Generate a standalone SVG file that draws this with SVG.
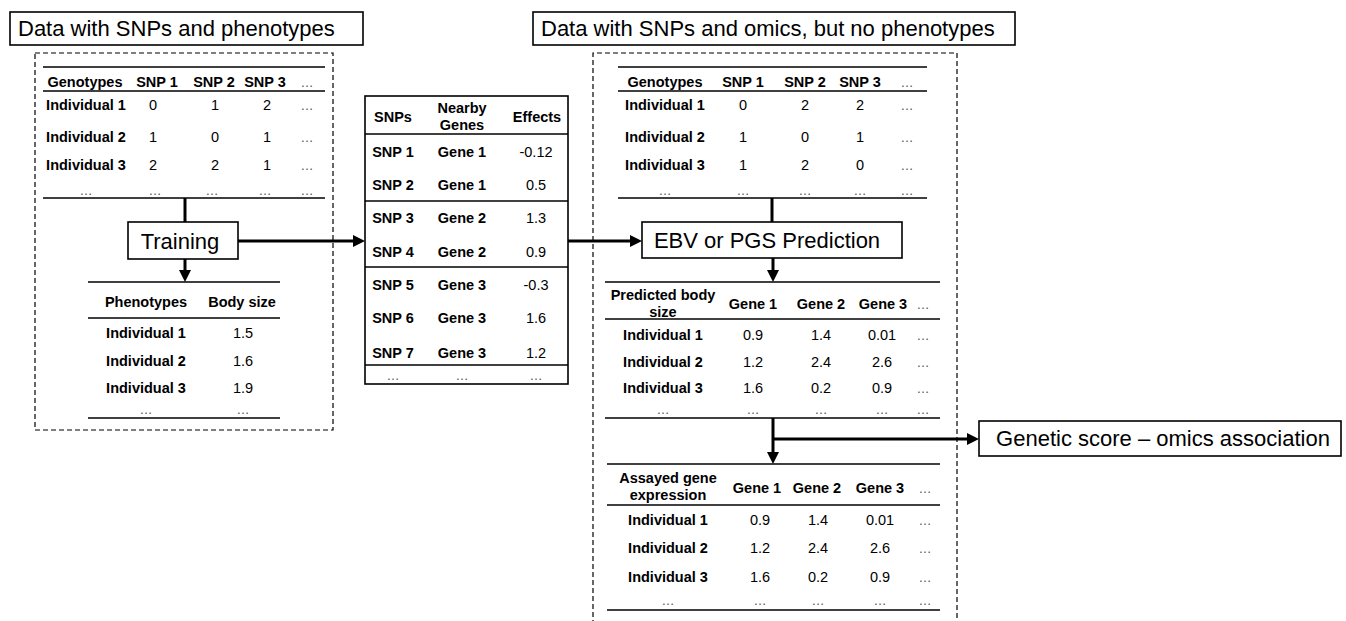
<svg xmlns="http://www.w3.org/2000/svg" width="1346" height="621" viewBox="0 0 1346 621">
<style>
text{font-family:"Liberation Sans",Arial,Helvetica,sans-serif;fill:#000}
.lbl{font-size:22px}
.h{font-size:14.5px;font-weight:bold;text-anchor:middle}
.v{font-size:14.5px;text-anchor:middle}
.d{font-size:13px;text-anchor:middle;fill:#555}
.box{fill:#fff;stroke:#000;stroke-width:1.6}
.rule{stroke:#000;stroke-width:1.5;fill:none}
.dash{fill:none;stroke:#000;stroke-width:1.2;stroke-dasharray:5 3}
.con{stroke:#000;stroke-width:3;fill:none}
</style>
<defs>
<marker id="ah" markerUnits="userSpaceOnUse" viewBox="0 0 12 12" markerWidth="12" markerHeight="12" refX="2" refY="6" orient="auto">
<path d="M0,0 L12,6 L0,12 z" fill="#000"/>
</marker>
</defs>

<rect x="0" y="0" width="1346" height="621" fill="#fff"/>

<g id="left-area">
<rect class="dash" x="35" y="53" width="298" height="377"/>
</g>
<g id="right-area">
<path class="dash" d="M593,625 V53 H957 V625"/>
</g>

<g id="title-left">
<rect class="box" x="10" y="12" width="353" height="33"/>
<text class="lbl" x="18" y="36">Data with SNPs and phenotypes</text>
</g>
<g id="title-right">
<rect class="box" x="533" y="12" width="482" height="33"/>
<text class="lbl" x="541" y="36">Data with SNPs and omics, but no phenotypes</text>
</g>

<g id="genotypes-left">
<line class="rule" x1="43" y1="67" x2="325" y2="67"/>
<line class="rule" x1="43" y1="91" x2="325" y2="91"/>
<line class="rule" x1="43" y1="198" x2="325" y2="198"/>
<text class="h" x="85" y="87">Genotypes</text>
<text class="h" x="157" y="87">SNP 1</text>
<text class="h" x="214" y="87">SNP 2</text>
<text class="h" x="265" y="87">SNP 3</text>
<text class="d" x="307" y="87">…</text>
<text class="h" x="86" y="110">Individual 1</text>
<text class="v" x="153" y="110">0</text><text class="v" x="215" y="110">1</text><text class="v" x="267" y="110">2</text><text class="d" x="307" y="110">…</text>
<text class="h" x="86" y="142">Individual 2</text>
<text class="v" x="153" y="142">1</text><text class="v" x="215" y="142">0</text><text class="v" x="267" y="142">1</text><text class="d" x="307" y="142">…</text>
<text class="h" x="86" y="170">Individual 3</text>
<text class="v" x="153" y="170">2</text><text class="v" x="215" y="170">2</text><text class="v" x="267" y="170">1</text><text class="d" x="307" y="170">…</text>
<text class="d" x="86" y="195">…</text><text class="d" x="155" y="195">…</text><text class="d" x="212" y="195">…</text><text class="d" x="265" y="195">…</text><text class="d" x="307" y="195">…</text>
</g>

<g id="training">
<rect class="box" x="128" y="222" width="110" height="37"/>
<text class="lbl" x="180" y="249" text-anchor="middle">Training</text>
</g>

<g id="phenotypes-left">
<line class="rule" x1="88" y1="282" x2="280" y2="282"/>
<line class="rule" x1="88" y1="318" x2="280" y2="318"/>
<line class="rule" x1="88" y1="418" x2="280" y2="418"/>
<text class="h" x="146" y="307">Phenotypes</text>
<text class="h" x="242" y="307">Body size</text>
<text class="h" x="146" y="338">Individual 1</text><text class="v" x="243" y="338">1.5</text>
<text class="h" x="146" y="366">Individual 2</text><text class="v" x="243" y="366">1.6</text>
<text class="h" x="146" y="393">Individual 3</text><text class="v" x="243" y="393">1.9</text>
<text class="d" x="146" y="414">…</text><text class="d" x="243" y="414">…</text>
</g>

<g id="snp-effects">
<rect class="box" x="365" y="96" width="203" height="288" stroke-width="1.5"/>
<line class="rule" x1="365" y1="134" x2="568" y2="134"/>
<line class="rule" x1="365" y1="201" x2="568" y2="201"/>
<line class="rule" x1="365" y1="267" x2="568" y2="267"/>
<line class="rule" x1="365" y1="365" x2="568" y2="365"/>
<text class="h" x="393" y="122">SNPs</text>
<text class="h" x="462" y="113">Nearby</text>
<text class="h" x="462" y="130">Genes</text>
<text class="h" x="537" y="122">Effects</text>
<text class="h" x="393" y="157">SNP 1</text><text class="h" x="462" y="157">Gene 1</text><text class="v" x="536" y="157">-0.12</text>
<text class="h" x="393" y="190">SNP 2</text><text class="h" x="462" y="190">Gene 1</text><text class="v" x="536" y="190">0.5</text>
<text class="h" x="393" y="223">SNP 3</text><text class="h" x="462" y="223">Gene 2</text><text class="v" x="536" y="223">1.3</text>
<text class="h" x="393" y="257">SNP 4</text><text class="h" x="462" y="257">Gene 2</text><text class="v" x="536" y="257">0.9</text>
<text class="h" x="393" y="290">SNP 5</text><text class="h" x="462" y="290">Gene 3</text><text class="v" x="536" y="290">-0.3</text>
<text class="h" x="393" y="323">SNP 6</text><text class="h" x="462" y="323">Gene 3</text><text class="v" x="536" y="323">1.6</text>
<text class="h" x="393" y="358">SNP 7</text><text class="h" x="462" y="358">Gene 3</text><text class="v" x="536" y="358">1.2</text>
<text class="d" x="393" y="380">…</text><text class="d" x="462" y="380">…</text><text class="d" x="536" y="380">…</text>
</g>

<g id="genotypes-right">
<line class="rule" x1="618" y1="67" x2="927" y2="67"/>
<line class="rule" x1="618" y1="91" x2="927" y2="91"/>
<line class="rule" x1="618" y1="198" x2="927" y2="198"/>
<text class="h" x="665" y="87">Genotypes</text>
<text class="h" x="743" y="87">SNP 1</text>
<text class="h" x="805" y="87">SNP 2</text>
<text class="h" x="860" y="87">SNP 3</text>
<text class="d" x="907" y="87">…</text>
<text class="h" x="665" y="110">Individual 1</text>
<text class="v" x="743" y="110">0</text><text class="v" x="805" y="110">2</text><text class="v" x="860" y="110">2</text><text class="d" x="907" y="110">…</text>
<text class="h" x="665" y="142">Individual 2</text>
<text class="v" x="743" y="142">1</text><text class="v" x="805" y="142">0</text><text class="v" x="860" y="142">1</text><text class="d" x="907" y="142">…</text>
<text class="h" x="665" y="170">Individual 3</text>
<text class="v" x="743" y="170">1</text><text class="v" x="805" y="170">2</text><text class="v" x="860" y="170">0</text><text class="d" x="907" y="170">…</text>
<text class="d" x="665" y="195">…</text><text class="d" x="743" y="195">…</text><text class="d" x="805" y="195">…</text><text class="d" x="860" y="195">…</text><text class="d" x="907" y="195">…</text>
</g>

<g id="prediction">
<rect class="box" x="642" y="222" width="260" height="36"/>
<text class="lbl" x="767" y="248" text-anchor="middle">EBV or PGS Prediction</text>
</g>

<g id="predicted-table">
<line class="rule" x1="605" y1="282" x2="940" y2="282"/>
<line class="rule" x1="605" y1="319" x2="940" y2="319"/>
<line class="rule" x1="605" y1="418" x2="940" y2="418"/>
<text class="h" x="663" y="300">Predicted body</text>
<text class="h" x="663" y="317">size</text>
<text class="h" x="753" y="309">Gene 1</text>
<text class="h" x="821" y="309">Gene 2</text>
<text class="h" x="883" y="309">Gene 3</text>
<text class="d" x="923" y="309">…</text>
<text class="h" x="663" y="340">Individual 1</text><text class="v" x="753" y="340">0.9</text><text class="v" x="821" y="340">1.4</text><text class="v" x="882" y="340">0.01</text><text class="d" x="923" y="340">…</text>
<text class="h" x="663" y="367">Individual 2</text><text class="v" x="753" y="367">1.2</text><text class="v" x="821" y="367">2.4</text><text class="v" x="882" y="367">2.6</text><text class="d" x="923" y="367">…</text>
<text class="h" x="663" y="393">Individual 3</text><text class="v" x="753" y="393">1.6</text><text class="v" x="821" y="393">0.2</text><text class="v" x="882" y="393">0.9</text><text class="d" x="923" y="393">…</text>
<text class="d" x="663" y="414">…</text><text class="d" x="753" y="414">…</text><text class="d" x="821" y="414">…</text><text class="d" x="882" y="414">…</text><text class="d" x="923" y="414">…</text>
</g>

<g id="association">
<rect class="box" x="979" y="421" width="362" height="35"/>
<text class="lbl" x="1163" y="446" text-anchor="middle">Genetic score – omics association</text>
</g>

<g id="assayed-table">
<line class="rule" x1="607" y1="464" x2="940" y2="464"/>
<line class="rule" x1="607" y1="505" x2="940" y2="505"/>
<line class="rule" x1="607" y1="610" x2="940" y2="610"/>
<text class="h" x="668" y="483">Assayed gene</text>
<text class="h" x="668" y="500">expression</text>
<text class="h" x="757" y="493">Gene 1</text>
<text class="h" x="817" y="493">Gene 2</text>
<text class="h" x="880" y="493">Gene 3</text>
<text class="d" x="925" y="493">…</text>
<text class="h" x="668" y="525">Individual 1</text><text class="v" x="760" y="525">0.9</text><text class="v" x="818" y="525">1.4</text><text class="v" x="880" y="525">0.01</text><text class="d" x="925" y="525">…</text>
<text class="h" x="668" y="553">Individual 2</text><text class="v" x="760" y="553">1.2</text><text class="v" x="818" y="553">2.4</text><text class="v" x="880" y="553">2.6</text><text class="d" x="925" y="553">…</text>
<text class="h" x="668" y="582">Individual 3</text><text class="v" x="760" y="582">1.6</text><text class="v" x="818" y="582">0.2</text><text class="v" x="880" y="582">0.9</text><text class="d" x="925" y="582">…</text>
<text class="d" x="668" y="605">…</text><text class="d" x="760" y="605">…</text><text class="d" x="818" y="605">…</text><text class="d" x="880" y="605">…</text><text class="d" x="925" y="605">…</text>
</g>

<g id="connectors">
<line class="con" x1="185" y1="198" x2="185" y2="222"/>
<line class="con" x1="185" y1="259" x2="185" y2="272" marker-end="url(#ah)"/>
<line class="con" x1="238" y1="241" x2="355" y2="241" marker-end="url(#ah)"/>
<line class="con" x1="568" y1="241" x2="632" y2="241" marker-end="url(#ah)"/>
<line class="con" x1="772" y1="198" x2="772" y2="222"/>
<line class="con" x1="773" y1="258" x2="773" y2="272" marker-end="url(#ah)"/>
<line class="con" x1="773" y1="418" x2="773" y2="454" marker-end="url(#ah)"/>
<line class="con" x1="773" y1="439" x2="969" y2="439" marker-end="url(#ah)"/>
</g>
</svg>
